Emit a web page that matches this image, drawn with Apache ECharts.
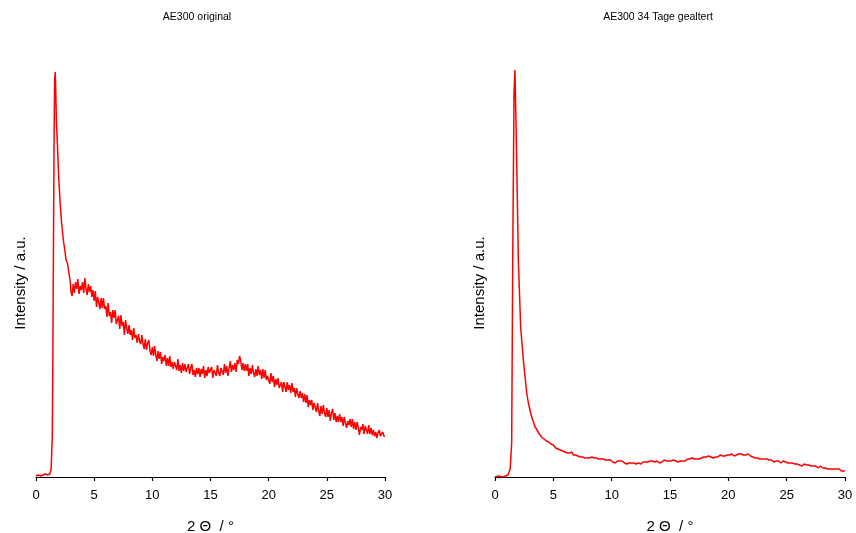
<!DOCTYPE html>
<html>
<head>
<meta charset="utf-8">
<script src="https://cdn.jsdelivr.net/npm/echarts@6/dist/echarts.min.js"></script>
<style>html,body{margin:0;padding:0;background:#fff}#chart{width:856px;height:533px}</style>
</head>
<body>
<div id="chart"></div>
<script>
// Titles and axis names
const titles = ['AE300 original', 'AE300 34 Tage gealtert'];
const xName = '2 \u0398  / \u00b0';
const yName = 'Intensity / a.u.';
const xTicks = [0, 5, 10, 15, 20, 25, 30];

// Left panel (original): low-angle region as explicit [2θ, intensity] pairs
const leftPeakX = [0.0, 0.2, 0.4, 0.5, 0.6, 0.8, 1.0, 1.1, 1.2, 1.3, 1.4, 1.45, 1.5, 1.55, 1.6, 1.65, 1.7, 1.75, 1.85, 1.95, 2.06, 2.2, 2.35, 2.5, 2.58, 2.7, 2.86, 2.95];
const leftPeakY = [1, 2, 1, 3, 2, 3, 2, 2, 3, 8, 40, 120, 230, 330, 395, 405, 385, 357, 330, 300, 277, 254, 237, 225, 217, 214, 213, 195];
// Left panel: measured intensities from 3.0° to 30.0°, one reading every 0.1°
const leftStart = 3.0, leftStep = 0.1;
const leftY = [
  186, 181, 193, 184, 195, 188, 198, 183, 191, 187,
  195, 184, 199, 188, 182, 193, 185, 191, 180, 187,
  176, 186, 170, 180, 174, 168, 179, 169, 179, 168,
  171, 160, 174, 161, 165, 154, 167, 159, 167, 153,
  154, 161, 148, 162, 151, 155, 142, 157, 149, 143,
  152, 142, 147, 137, 149, 139, 142, 134, 143, 136,
  133, 142, 133, 128, 138, 127, 134, 137, 126, 122,
  130, 121, 131, 122, 116, 126, 118, 125, 113, 120,
  116, 122, 111, 119, 111, 121, 110, 115, 108, 115,
  115, 107, 118, 106, 112, 104, 114, 106, 113, 105,
  105, 113, 103, 109, 113, 102, 107, 100, 109, 103,
  109, 100, 108, 103, 111, 99, 107, 101, 110, 104,
  102, 110, 99, 107, 109, 101, 112, 104, 101, 109,
  109, 102, 113, 104, 111, 101, 109, 116, 105, 112,
  107, 114, 105, 117, 113, 121, 116, 107, 114, 106,
  113, 106, 113, 101, 109, 103, 112, 104, 100, 108,
  101, 111, 102, 107, 98, 108, 99, 107, 97, 101,
  102, 93, 104, 95, 101, 90, 98, 92, 99, 89,
  89, 95, 85, 95, 90, 85, 95, 87, 92, 84,
  94, 85, 89, 80, 89, 83, 79, 86, 79, 84,
  75, 83, 74, 82, 70, 77, 72, 77, 67, 74,
  73, 65, 74, 66, 61, 71, 63, 72, 64, 60,
  69, 60, 67, 56, 64, 68, 57, 64, 55, 61,
  55, 63, 55, 60, 51, 60, 54, 49, 56, 52,
  58, 50, 58, 48, 55, 47, 55, 49, 42, 50,
  47, 53, 43, 51, 49, 43, 52, 43, 49, 42,
  47, 41, 45, 39, 44, 47, 41, 39, 45, 41,
  41
];

// Right panel (aged 34 days)
const rightPeakX = [0.0, 0.3, 0.6, 0.9, 1.11, 1.3, 1.43, 1.52, 1.63, 1.71, 1.86, 2.0, 2.2, 2.43, 2.72, 2.86];
const rightPeakY = [0, 1, 0, 1, 2, 8, 34, 217, 384, 407, 317, 217, 150, 117, 84, 74];
const rightStart = 3.0, rightStep = 0.1;
const rightY = [
  67, 62, 58, 55, 51, 49, 47, 45, 43, 42,
  40, 39, 38, 38, 36, 35, 35, 33, 33, 31,
  32, 30, 29, 30, 28, 29, 27, 28, 26, 27,
  25, 27, 24, 25, 24, 23, 25, 22, 23, 22,
  23, 21, 22, 20, 22, 20, 21, 19, 21, 19,
  20, 19, 18, 20, 18, 19, 17, 19, 17, 18,
  17, 18, 16, 18, 16, 17, 16, 17, 15, 17,
  16, 15, 17, 14, 15, 16, 14, 16, 14, 16,
  15, 14, 16, 13, 15, 14, 16, 14, 15, 14,
  15, 13, 15, 14, 16, 13, 14, 15, 13, 15,
  14, 15, 13, 16, 14, 16, 14, 15, 14, 16,
  15, 14, 16, 15, 14, 17, 15, 16, 14, 16,
  15, 16, 15, 17, 15, 16, 17, 15, 17, 16,
  17, 16, 18, 16, 17, 18, 16, 18, 17, 19,
  17, 18, 20, 18, 19, 18, 20, 19, 18, 20,
  19, 20, 19, 21, 19, 20, 21, 19, 21, 20,
  21, 20, 21, 22, 20, 21, 22, 21, 20, 22,
  21, 22, 21, 23, 22, 21, 23, 22, 21, 23,
  22, 23, 21, 22, 24, 22, 21, 23, 22, 21,
  21, 20, 21, 19, 20, 19, 20, 18, 19, 18,
  19, 18, 17, 18, 16, 17, 16, 17, 16, 15,
  17, 16, 15, 16, 15, 14, 15, 16, 14, 15,
  15, 14, 13, 14, 13, 14, 12, 13, 12, 13,
  13, 12, 13, 11, 12, 13, 11, 12, 11, 12,
  12, 11, 10, 11, 10, 11, 10, 9, 10, 11,
  10, 9, 10, 9, 10, 8, 9, 8, 9, 8,
  9, 8, 7, 8, 7, 8, 7, 6, 7, 6,
  6
];

function buildSeries(peakX, peakY, start, step, vals) {
  const out = peakX.map((x, i) => [x, peakY[i]]);
  vals.forEach((v, i) => out.push([+(start + i * step).toFixed(2), v]));
  return out;
}

const leftData = buildSeries(leftPeakX, leftPeakY, leftStart, leftStep, leftY);
const rightData = buildSeries(rightPeakX, rightPeakY, rightStart, rightStep, rightY);

const font = 'Liberation Sans, Arial, sans-serif';

function xAxis(gi) {
  return {
    type: 'value', gridIndex: gi, min: 0, max: 30, interval: 5,
    name: xName, nameLocation: 'middle', nameGap: 42,
    nameTextStyle: { color: '#000', fontSize: 15, fontFamily: font },
    axisLine: { show: true, lineStyle: { color: '#000', width: 1.2 } },
    axisTick: { show: true, length: 4, lineStyle: { color: '#000', width: 1.2 } },
    axisLabel: { color: '#000', fontSize: 13, fontFamily: font, margin: 12,
      formatter: v => xTicks.includes(v) ? String(v) : '' },
    splitLine: { show: false }
  };
}
function yAxis(gi) {
  return {
    type: 'value', gridIndex: gi, min: 0, max: 410,
    name: yName, nameLocation: 'middle', nameGap: 8, nameRotate: 90,
    nameTextStyle: { color: '#000', fontSize: 15, fontFamily: font, padding: [0, 22, 0, 0] },
    axisLine: { show: false }, axisTick: { show: false },
    axisLabel: { show: false }, splitLine: { show: false }
  };
}

const chart = echarts.init(document.getElementById('chart'), null, { renderer: 'canvas' });
chart.setOption({
  animation: false,
  backgroundColor: '#fff',
  title: [
    { text: titles[0], left: 197, top: 12, padding: 0, textAlign: 'center',
      textStyle: { fontSize: 10.5, fontWeight: 'normal', color: '#000', fontFamily: font } },
    { text: titles[1], left: 658, top: 12, padding: 0, textAlign: 'center',
      textStyle: { fontSize: 10.5, fontWeight: 'normal', color: '#000', fontFamily: font } }
  ],
  grid: [
    { left: 36, right: 471, top: 67, bottom: 56, outerBoundsMode: 'none', containLabel: false },
    { left: 495, right: 11, top: 67, bottom: 56, outerBoundsMode: 'none', containLabel: false }
  ],
  xAxis: [xAxis(0), xAxis(1)],
  yAxis: [yAxis(0), yAxis(1)],
  series: [
    { type: 'line', xAxisIndex: 0, yAxisIndex: 0, data: leftData, showSymbol: false,
      lineStyle: { color: '#ff0000', width: 1.5 }, itemStyle: { color: '#ff0000' } },
    { type: 'line', xAxisIndex: 1, yAxisIndex: 1, data: rightData, showSymbol: false,
      lineStyle: { color: '#ff0000', width: 1.5 }, itemStyle: { color: '#ff0000' } }
  ]
});
</script>
</body>
</html>
